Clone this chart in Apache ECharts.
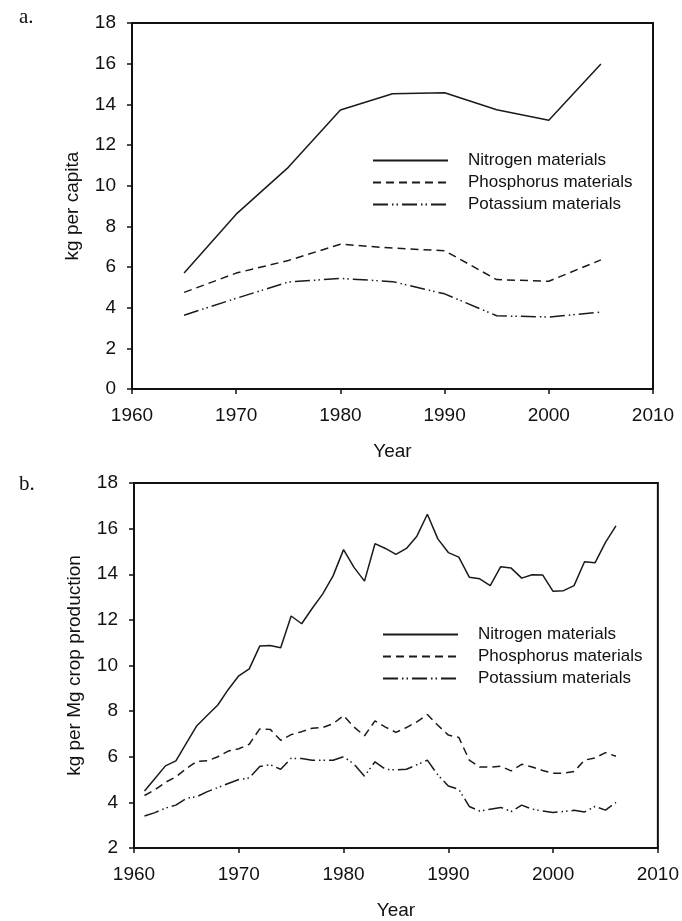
<!DOCTYPE html>
<html>
<head>
<meta charset="utf-8">
<script src="https://cdn.jsdelivr.net/npm/echarts@6/dist/echarts.min.js"></script>
<style>
html, body { margin: 0; padding: 0; background: #fff; }
#graph { width: 682px; height: 921px; }
</style>
</head>
<body>
<div id="graph"></div>
<script>
// panel a: per capita, every 5 years
var yearsA = [1965, 1970, 1975, 1980, 1985, 1990, 1995, 2000, 2005];
var nitrogenA = [5.7, 8.6, 10.9, 13.72, 14.52, 14.57, 13.73, 13.22, 15.98];
var phosphorusA = [4.75, 5.7, 6.32, 7.12, 6.93, 6.8, 5.38, 5.3, 6.35];
var potassiumA = [3.63, 4.46, 5.26, 5.44, 5.28, 4.68, 3.6, 3.54, 3.78];

// panel b: per Mg crop production, yearly
var yearsB = [1961, 1962, 1963, 1964, 1965, 1966, 1967, 1968, 1969, 1970,
              1971, 1972, 1973, 1974, 1975, 1976, 1977, 1978, 1979, 1980,
              1981, 1982, 1983, 1984, 1985, 1986, 1987, 1988, 1989, 1990,
              1991, 1992, 1993, 1994, 1995, 1996, 1997, 1998, 1999, 2000,
              2001, 2002, 2003, 2004, 2005, 2006];
var nitrogenB = [4.5, 5.05, 5.6, 5.82, 6.6, 7.36, 7.82, 8.27, 8.95, 9.55,
                 9.85, 10.85, 10.88, 10.78, 12.17, 11.83, 12.5, 13.13, 13.93, 15.08,
                 14.3, 13.7, 15.34, 15.13, 14.87, 15.13, 15.67, 16.63, 15.55, 14.95,
                 14.75, 13.87, 13.8, 13.5, 14.33, 14.27, 13.83, 13.98, 13.97, 13.25,
                 13.28, 13.5, 14.55, 14.5, 15.4, 16.12];
var phosphorusB = [4.3, 4.55, 4.88, 5.12, 5.48, 5.8, 5.82, 6.0, 6.25, 6.35,
                   6.55, 7.22, 7.2, 6.72, 6.97, 7.1, 7.25, 7.28, 7.45, 7.8,
                   7.3, 6.92, 7.57, 7.3, 7.07, 7.28, 7.53, 7.85, 7.38, 6.95,
                   6.85, 5.85, 5.55, 5.55, 5.58, 5.38, 5.67, 5.55, 5.4, 5.28,
                   5.28, 5.35, 5.85, 5.95, 6.18, 6.02];
var potassiumB = [3.4, 3.55, 3.75, 3.88, 4.18, 4.25, 4.47, 4.65, 4.83, 5.0,
                  5.07, 5.57, 5.65, 5.45, 5.93, 5.92, 5.85, 5.85, 5.85, 6.0,
                  5.68, 5.15, 5.78, 5.45, 5.42, 5.45, 5.65, 5.85, 5.2, 4.72,
                  4.57, 3.82, 3.62, 3.7, 3.78, 3.6, 3.88, 3.7, 3.62, 3.56,
                  3.6, 3.65, 3.58, 3.82, 3.66, 4.0];

var names = ['Nitrogen materials', 'Phosphorus materials', 'Potassium materials'];
var dashes = ['solid', [8, 5], [15, 4, 1.5, 3, 1.5, 4]];
var ink = '#111';
var sans = 'Liberation Sans, Arial, sans-serif';

function pairs(xs, ys) {
    return xs.map(function(x, i) { return [x, ys[i]]; });
}

function xAxis(idx) {
    return {
        type: 'value', gridIndex: idx, min: 1960, max: 2010, interval: 10,
        name: 'Year', nameLocation: 'middle', nameGap: 53,
        nameTextStyle: { fontFamily: sans, fontSize: 19, color: ink },
        axisLine: { lineStyle: { color: ink, width: 2 } },
        axisTick: { length: 5, lineStyle: { color: ink, width: 1.5 } },
        axisLabel: { fontFamily: sans, fontSize: 19, color: ink, margin: 17,
                     formatter: function(v) { return String(v); } },
        splitLine: { show: false }
    };
}

function yAxis(idx, min, title) {
    return {
        type: 'value', gridIndex: idx, min: min, max: 18, interval: 2,
        name: title, nameLocation: 'middle', nameGap: 50, nameRotate: 90,
        nameTextStyle: { fontFamily: sans, fontSize: 19, color: ink },
        axisLine: { lineStyle: { color: ink, width: 2 } },
        axisTick: { length: 5, lineStyle: { color: ink, width: 1.5 } },
        axisLabel: { fontFamily: sans, fontSize: 19, color: ink, margin: 16 },
        splitLine: { show: false }
    };
}

function lines(idx, data) {
    return data.map(function(d, i) {
        return {
            name: names[i], type: 'line', xAxisIndex: idx, yAxisIndex: idx,
            data: d, symbol: 'none', silent: true, animation: false,
            lineStyle: { color: '#1a1a1a', width: 1.5, type: dashes[i] },
            itemStyle: { color: '#1a1a1a' }
        };
    });
}

function legend(left, top) {
    return {
        orient: 'vertical', left: left, top: top,
        itemWidth: 75, itemHeight: 14, itemGap: 5,
        data: names, selectedMode: false,
        itemStyle: { color: 'rgba(0,0,0,0)', borderWidth: 0, opacity: 0 },
        textStyle: { fontFamily: sans, fontSize: 17, lineHeight: 17, color: ink, padding: [0, 0, 0, 15] }
    };
}

var chart = echarts.init(document.getElementById('graph'));

chart.setOption({
    backgroundColor: '#fff',
    title: [
        { text: 'a.', left: 14, top: 2, textStyle: { fontFamily: 'Liberation Serif, serif', fontSize: 21, fontWeight: 'normal', color: ink } },
        { text: 'b.', left: 14, top: 469, textStyle: { fontFamily: 'Liberation Serif, serif', fontSize: 21, fontWeight: 'normal', color: ink } }
    ],
    legend: [legend(367, 147), legend(377, 621)],
    grid: [
        { left: 132, top: 23, width: 521, height: 366, show: true, borderColor: ink, borderWidth: 2 },
        { left: 134, top: 483, width: 525, height: 366, show: true, borderColor: ink, borderWidth: 2 }
    ],
    xAxis: [xAxis(0), xAxis(1)],
    yAxis: [yAxis(0, 0, 'kg per capita'), yAxis(1, 2, 'kg per Mg crop production')],
    series: lines(0, [pairs(yearsA, nitrogenA), pairs(yearsA, phosphorusA), pairs(yearsA, potassiumA)])
        .concat(lines(1, [pairs(yearsB, nitrogenB), pairs(yearsB, phosphorusB), pairs(yearsB, potassiumB)]))
});
</script>
</body>
</html>
